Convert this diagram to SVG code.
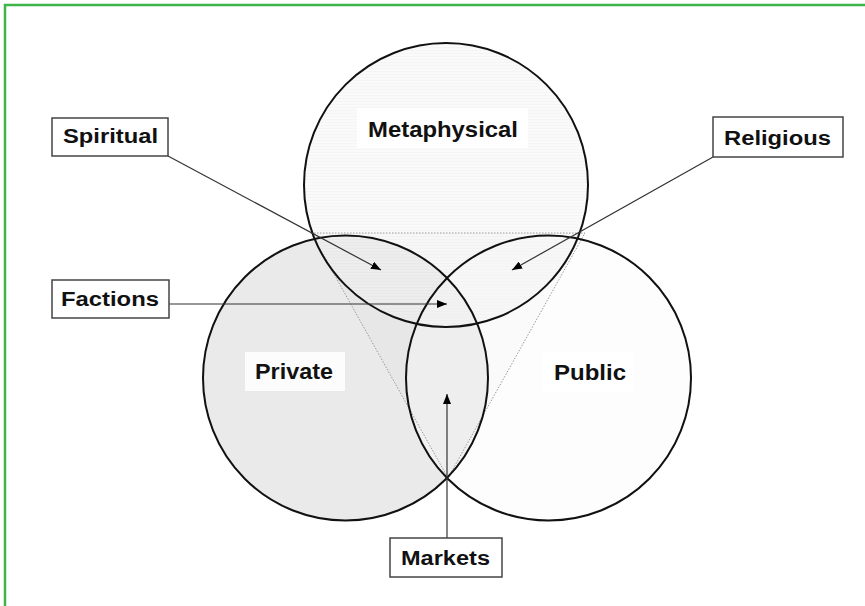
<svg xmlns="http://www.w3.org/2000/svg" width="865" height="606" viewBox="0 0 865 606">
  <style>
    .ring { stroke: #111; stroke-width: 2; }
    .name { font-family: "Liberation Sans", Arial, sans-serif; font-weight: bold; font-size: 22px; fill: #111; }
    .tag { font-family: "Liberation Sans", Arial, sans-serif; font-weight: bold; font-size: 20px; fill: #111; }
    .tagbox { fill: #fff; stroke: #444; stroke-width: 1.5; }
    .namebg { fill: #fff; opacity: 0.85; }
    .link { stroke: #333; stroke-width: 1.2; fill: none; marker-end: url(#head); }
  </style>
  <defs>
    <marker id="head" viewBox="0 0 10 8" refX="10" refY="4" markerWidth="10" markerHeight="8" markerUnits="userSpaceOnUse" orient="auto">
      <path d="M0,0 L10,4 L0,8 Z" fill="#000"/>
    </marker>
    <pattern id="hatch" width="4" height="3" patternUnits="userSpaceOnUse">
      <rect width="4" height="3" fill="#f5f5f5"/>
      <rect y="2" width="4" height="1" fill="#ececec"/>
    </pattern>
  </defs>

  <rect width="865" height="606" fill="#fff"/>
  <!-- frame -->
  <path d="M5,606 V5 H865" fill="none" stroke="#3db54a" stroke-width="2.5"/>

  <!-- circle fills -->
  <g id="private">
    <circle cx="345.5" cy="378" r="142.5" fill="#eaeaea"/>
  </g>
  <g id="metaphysical">
    <circle cx="446" cy="185" r="142" fill="url(#hatch)" fill-opacity="0.55"/>
  </g>
  <g id="public">
    <circle cx="548.5" cy="378" r="142.5" fill="#fbfbfb" fill-opacity="0.45"/>
  </g>

  <!-- faint triangle joining the outer crossings -->
  <g id="triangle">
    <polygon points="311,233 585,233 448,478" fill="#000" fill-opacity="0.012" stroke="#9a9a9a" stroke-width="1" stroke-dasharray="1.5 1.5"/>
  </g>

  <!-- circle outlines -->
  <g id="outlines" fill="none">
    <circle class="ring" cx="345.5" cy="378" r="142.5"/>
    <circle class="ring" cx="446" cy="185" r="142"/>
    <circle class="ring" cx="548.5" cy="378" r="142.5"/>
  </g>

  <!-- circle names -->
  <g id="name-metaphysical">
    <rect class="namebg" x="357" y="108" width="171" height="40"/>
    <text class="name" x="368" y="137" textLength="150" lengthAdjust="spacingAndGlyphs">Metaphysical</text>
  </g>
  <g id="name-private">
    <rect class="namebg" x="245" y="352" width="100" height="39"/>
    <text class="name" x="255" y="379" textLength="78" lengthAdjust="spacingAndGlyphs">Private</text>
  </g>
  <g id="name-public">
    <rect class="namebg" x="542" y="352" width="91" height="40"/>
    <text class="name" x="554" y="380" textLength="72" lengthAdjust="spacingAndGlyphs">Public</text>
  </g>

  <!-- connectors -->
  <g id="connectors">
    <line class="link" x1="168" y1="156" x2="381" y2="270"/>
    <line class="link" x1="713" y1="157" x2="512" y2="270"/>
    <line class="link" x1="169" y1="304" x2="447" y2="304"/>
    <line class="link" x1="447" y1="538" x2="447" y2="394"/>
  </g>

  <!-- callout labels -->
  <g id="spiritual">
    <rect class="tagbox" x="52" y="118" width="116" height="38"/>
    <text class="tag" x="63" y="143" textLength="95" lengthAdjust="spacingAndGlyphs">Spiritual</text>
  </g>
  <g id="religious">
    <rect class="tagbox" x="713" y="117" width="130" height="40"/>
    <text class="tag" x="724" y="145" textLength="107" lengthAdjust="spacingAndGlyphs">Religious</text>
  </g>
  <g id="factions">
    <rect class="tagbox" x="52" y="280" width="117" height="38"/>
    <text class="tag" x="61" y="306" textLength="98" lengthAdjust="spacingAndGlyphs">Factions</text>
  </g>
  <g id="markets">
    <rect class="tagbox" x="390" y="538" width="112" height="39"/>
    <text class="tag" x="401" y="565" textLength="89" lengthAdjust="spacingAndGlyphs">Markets</text>
  </g>
</svg>
